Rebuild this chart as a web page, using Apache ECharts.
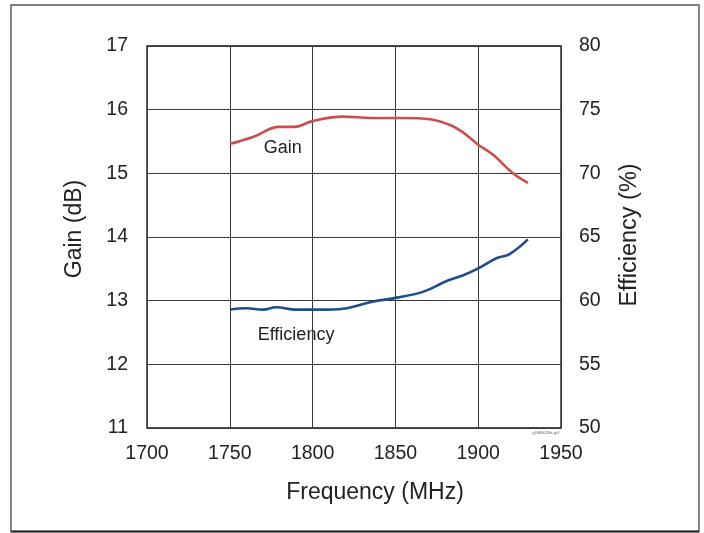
<!DOCTYPE html>
<html><head><meta charset="utf-8">
<script src="https://cdn.jsdelivr.net/npm/echarts@6/dist/echarts.min.js"></script>
<style>html,body{margin:0;padding:0;background:#fff}#c{width:704px;height:533px}</style>
</head><body><div id="c"></div>
<script>
const freqTicks = [1700, 1750, 1800, 1850, 1900, 1950];
const gainTicks = [11, 12, 13, 14, 15, 16, 17];
const effTicks = [50, 55, 60, 65, 70, 75, 80];
const gainFreq = [1750, 1764, 1780, 1789, 1800, 1818, 1836, 1855, 1871, 1883, 1891, 1900, 1909, 1921, 1930];
const gainVals = [15.46, 15.57, 15.73, 15.73, 15.82, 15.89, 15.87, 15.87, 15.85, 15.76, 15.64, 15.45, 15.29, 15.0, 14.85];
const effFreq = [1750, 1760, 1770, 1778, 1790, 1808, 1816, 1836, 1851, 1867, 1881, 1891, 1900, 1911, 1919, 1930];
const effVals = [59.3, 59.4, 59.3, 59.48, 59.3, 59.3, 59.33, 59.92, 60.24, 60.71, 61.55, 62.0, 62.54, 63.33, 63.66, 64.81];

const chart = echarts.init(document.getElementById('c'), null, {renderer: 'canvas'});
const font = 'Liberation Sans, Arial, sans-serif';
const axisLbl = {color: '#222', fontSize: 19.5, fontFamily: font, formatter: v => String(v)};
const split = {show: true, lineStyle: {color: '#3a3a3a', width: 1}};
chart.setOption({
  animation: false,
  grid: {left: 147, right: 143, top: 46, bottom: 105, show: true, borderColor: '#111', borderWidth: 1.3},
  xAxis: {
    type: 'value', min: freqTicks[0], max: freqTicks[freqTicks.length - 1], interval: 50,
    axisLine: {show: false}, axisTick: {show: false},
    axisLabel: Object.assign({}, axisLbl, {margin: 16}),
    splitLine: split
  },
  yAxis: [{
    type: 'value', min: gainTicks[0], max: gainTicks[gainTicks.length - 1], interval: 1,
    axisLine: {show: false}, axisTick: {show: false},
    axisLabel: Object.assign({}, axisLbl, {margin: 19}),
    splitLine: split
  }, {
    type: 'value', min: effTicks[0], max: effTicks[effTicks.length - 1], interval: 5,
    axisLine: {show: false}, axisTick: {show: false},
    axisLabel: Object.assign({}, axisLbl, {margin: 18}),
    splitLine: {show: false}
  }],
  series: [{
    type: 'line', yAxisIndex: 0, smooth: 0.4, symbol: 'none',
    lineStyle: {color: '#c9504f', width: 2.6},
    data: gainFreq.map((f, i) => [f, gainVals[i]])
  }, {
    type: 'line', yAxisIndex: 1, smooth: 0.4, symbol: 'none',
    lineStyle: {color: '#1e4d8a', width: 2.6},
    data: effFreq.map((f, i) => [f, effVals[i]])
  }]
});
const pG = chart.convertToPixel({xAxisIndex: 0, yAxisIndex: 0}, [1782, 15.4]);
const pE = chart.convertToPixel({xAxisIndex: 0, yAxisIndex: 1}, [1790, 57.3]);
const nm = {fontSize: 23, fontFamily: font, fill: '#222', textAlign: 'center', textVerticalAlign: 'middle'};
chart.setOption({
  graphic: [
    {type: 'rect', x: 0, y: 0, shape: {x: 11, y: 5, width: 688, height: 526.5}, style: {fill: 'none', stroke: '#555', lineWidth: 1.4}, silent: true},
    {type: 'line', x: 0, y: 0, shape: {x1: 11, y1: 531.5, x2: 699, y2: 531.5}, style: {stroke: '#222', lineWidth: 2}, silent: true},
    {type: 'text', x: 375, y: 493, style: Object.assign({text: 'Frequency (MHz)'}, nm)},
    {type: 'text', x: 75, y: 229, rotation: Math.PI / 2, style: Object.assign({text: 'Gain (dB)'}, nm)},
    {type: 'text', x: 630, y: 235, rotation: Math.PI / 2, style: Object.assign({text: 'Efficiency (%)'}, nm, {fontSize: 23.5})},
    {type: 'text', x: pG[0], y: pG[1], style: {text: 'Gain', fontSize: 18, fontFamily: font, fill: '#222', textAlign: 'center', textVerticalAlign: 'middle'}},
    {type: 'text', x: pE[0], y: pE[1], style: {text: 'Efficiency', fontSize: 18, fontFamily: font, fill: '#222', textAlign: 'center', textVerticalAlign: 'middle'}},
    {type: 'text', x: 546, y: 433, style: {text: 'g1848028e-gr3', fontSize: 4, fontFamily: font, fill: '#666', textAlign: 'center', textVerticalAlign: 'middle'}}
  ]
});
</script></body></html>
